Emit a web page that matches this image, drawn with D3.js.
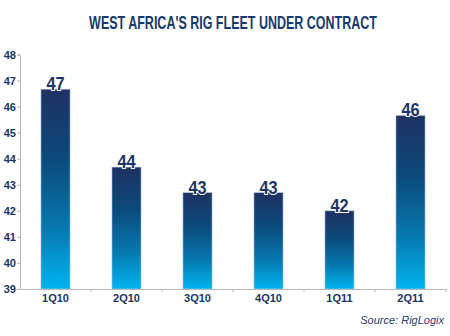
<!DOCTYPE html>
<html>
<head>
<meta charset="utf-8">
<script src="https://cdn.jsdelivr.net/npm/d3@7"></script>
<style>
  body { margin: 0; background: #fff; }
  svg { display: block; }
</style>
</head>
<body>
<svg id="chart-area"></svg>
<script>
// data
const quarters = ["1Q10", "2Q10", "3Q10", "4Q10", "1Q11", "2Q11"]
const rigs = [46.67, 43.68, 42.7, 42.7, 42.0, 45.66]
const rigLabels = ["47", "44", "43", "43", "42", "46"]
const yTicks = [39, 40, 41, 42, 43, 44, 45, 46, 47, 48]

const width = 450
const height = 336
const navy = "#1d3564"

const svg = d3.select("#chart-area")
    .attr("width", width)
    .attr("height", height)

const defs = svg.append("defs")
const grad = defs.append("linearGradient")
    .attr("id", "barGrad")
    .attr("x1", 0).attr("y1", 0)
    .attr("x2", 0).attr("y2", 1)
grad.append("stop").attr("offset", "0%").attr("stop-color", "#1f3163")
grad.append("stop").attr("offset", "35%").attr("stop-color", "#0b4a7b")
grad.append("stop").attr("offset", "70%").attr("stop-color", "#0779b0")
grad.append("stop").attr("offset", "100%").attr("stop-color", "#00b4f0")

const x = d3.scaleBand()
    .domain(quarters)
    .range([20, 446])
    .paddingInner(0.59)
    .paddingOuter(0.295)

const y = d3.scaleLinear()
    .domain([39, 48])
    .range([289, 54.5])

// title, squeezed horizontally to get the condensed look
const title = svg.append("text")
    .attr("x", 0)
    .attr("y", 0)
    .attr("text-anchor", "middle")
    .attr("fill", "#173a6c")
    .style("font-family", "Arial, 'Liberation Sans', sans-serif")
    .style("font-weight", "bold")
    .style("font-size", "18px")
    .text("WEST AFRICA'S RIG FLEET UNDER CONTRACT")
const tw = title.node().getComputedTextLength()
title.attr("transform", `translate(233,29) scale(${288 / tw},1)`)

// bars
svg.selectAll(".bar")
    .data(rigs)
    .enter()
    .append("rect")
    .attr("class", "bar")
    .attr("x", (d, i) => x(quarters[i]))
    .attr("y", d => y(d))
    .attr("width", x.bandwidth())
    .attr("height", d => y(39) - y(d))
    .attr("fill", "url(#barGrad)")
    .attr("stroke", "#b9cbe0")
    .attr("stroke-width", 0.6)

// value labels with white halo
svg.selectAll(".val")
    .data(rigs)
    .enter()
    .append("text")
    .attr("class", "val")
    .attr("transform", (d, i) => `translate(${x(quarters[i]) + x.bandwidth() / 2},${y(d) + 1}) scale(0.86,1)`)
    .attr("text-anchor", "middle")
    .attr("fill", navy)
    .attr("stroke", "#fff")
    .attr("stroke-width", 2)
    .attr("paint-order", "stroke")
    .style("font-family", "Arial, 'Liberation Sans', sans-serif")
    .style("font-weight", "bold")
    .style("font-size", "19px")
    .text((d, i) => rigLabels[i])

// y axis
const yAxis = svg.append("g")
    .attr("transform", "translate(20,0)")
    .call(d3.axisLeft(y).tickValues(yTicks).tickSize(3).tickFormat(d3.format("d")))
yAxis.select(".domain").attr("stroke", "#b8b8b8")
yAxis.selectAll(".tick line").attr("stroke", "#b8b8b8")
yAxis.selectAll(".tick text")
    .attr("x", -4)
    .attr("fill", navy)
    .style("font-family", "Arial, 'Liberation Sans', sans-serif")
    .style("font-weight", "bold")
    .style("font-size", "11px")

// x axis with ticks between bars
const xAxis = svg.append("g")
    .attr("transform", "translate(0,289)")
    .call(d3.axisBottom(x).tickSize(0).tickSizeOuter(0))
xAxis.select(".domain").attr("stroke", "#b8b8b8")
xAxis.selectAll(".tick text")
    .attr("dy", "0.71em")
    .attr("y", 5)
    .attr("fill", navy)
    .style("font-family", "Arial, 'Liberation Sans', sans-serif")
    .style("font-weight", "bold")
    .style("font-size", "11px")

xAxis.selectAll(".sep")
    .data(quarters)
    .enter()
    .append("line")
    .attr("class", "sep")
    .attr("x1", d => x(d) + x.bandwidth() / 2 + x.step() / 2)
    .attr("x2", d => x(d) + x.bandwidth() / 2 + x.step() / 2)
    .attr("y1", 0)
    .attr("y2", 3)
    .attr("stroke", "#b8b8b8")

// source
svg.append("text")
    .attr("x", 444)
    .attr("y", 324)
    .attr("text-anchor", "end")
    .attr("fill", "#2a3d66")
    .style("font-family", "Arial, 'Liberation Sans', sans-serif")
    .style("font-style", "italic")
    .style("font-size", "11px")
    .text("Source: RigLogix")
</script>
</body>
</html>
